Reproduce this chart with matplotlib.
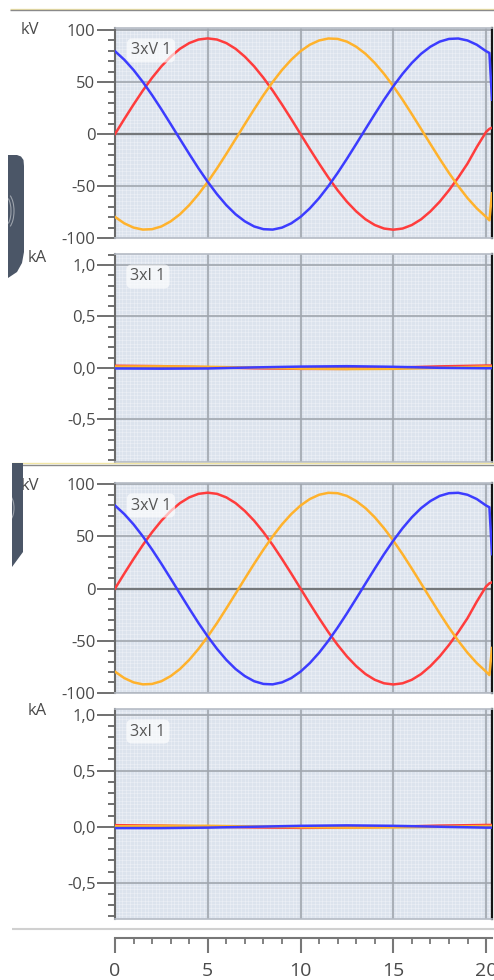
import numpy as np
import matplotlib
matplotlib.use("Agg")
import matplotlib.pyplot as plt
from matplotlib.ticker import MultipleLocator, FuncFormatter
from matplotlib.transforms import Affine2D
from matplotlib.lines import Line2D
from matplotlib.patches import Polygon, Arc

# ---- recorded samples (time in ms) ----
t_v = np.concatenate([np.arange(0, 20.01, 0.5), [20.18, 20.32]])

red_kv = [0.0, 14.4, 28.4, 41.8, 54.1, 65.1, 74.4, 82.0, 87.5, 90.9, 92.0,
          90.9, 87.5, 82.0, 74.4, 65.1, 54.1, 41.8, 28.4, 14.4, 0.0,
          -14.4, -28.4, -41.8, -54.1, -65.1, -74.4, -82.0, -87.5, -90.9, -92.0,
          -90.9, -87.5, -82.0, -74.4, -65.1, -54.1, -41.8, -28.4, -12.5, 2.0,
          5.0, 6.0]
blue_kv = [79.7, 71.5, 61.6, 50.1, 37.4, 23.8, 9.6, -4.8, -19.1, -33.0, -46.0,
           -57.9, -68.4, -77.2, -84.0, -88.9, -91.5, -91.9, -90.0, -85.9, -79.7,
           -71.5, -61.6, -50.1, -37.4, -23.8, -9.6, 4.8, 19.1, 33.0, 46.0,
           57.9, 68.4, 77.2, 84.0, 88.9, 91.5, 91.9, 90.0, 85.9, 79.7,
           78.0, 33.0]
orange_kv = [-79.7, -85.9, -90.0, -91.9, -91.5, -88.9, -84.0, -77.2, -68.4, -57.9, -46.0,
             -33.0, -19.1, -4.8, 9.6, 23.8, 37.4, 50.1, 61.6, 71.5, 79.7,
             85.9, 90.0, 91.9, 91.5, 88.9, 84.0, 77.2, 68.4, 57.9, 46.0,
             33.0, 19.1, 4.8, -9.6, -23.8, -37.4, -50.1, -61.6, -71.5, -79.7,
             -83.0, -57.0]

t_i = [0, 2.5, 5, 7.5, 10, 12.5, 15, 17.5, 20, 20.32]
red_ka_1 = [0.020, 0.016, 0.006, -0.004, -0.010, -0.010, 0.002, 0.014, 0.022, 0.022]
orange_ka_1 = [0.012, 0.014, 0.010, 0.002, -0.008, -0.012, -0.010, 0.000, 0.012, 0.010]
blue_ka_1 = [-0.006, -0.008, -0.006, 0.004, 0.012, 0.016, 0.010, 0.000, -0.004, -0.004]

red_ka_2 = [0.014, 0.010, 0.002, -0.006, -0.010, -0.008, 0.000, 0.010, 0.016, 0.016]
orange_ka_2 = [0.004, 0.008, 0.008, 0.002, -0.004, -0.008, -0.006, 0.000, 0.006, 0.006]
blue_ka_2 = [-0.012, -0.012, -0.008, 0.000, 0.008, 0.012, 0.008, 0.000, -0.008, -0.008]

x_ticks = [0, 5, 10, 15, 20]

RED, ORANGE, BLUE = '#ff3c3c', '#ffb22c', '#3c3cff'
TXT = '#4a4a4a'

W, H = 494, 980
plt.rcParams['font.family'] = ['Open Sans', 'DejaVu Sans']
fig = plt.figure(figsize=(W / 100, H / 100), dpi=100)
fig.patch.set_facecolor('white')

# pixel coordinates measured from the top-left corner
pix = Affine2D().scale(1 / W, -1 / H).translate(0, 1) + fig.transFigure


def rect(l, t, r, b):
    return [l / W, 1 - b / H, (r - l) / W, (b - t) / H]


def hline(x0, x1, y, color, lw):
    fig.add_artist(Line2D([x0, x1], [y, y], transform=pix, color=color, lw=lw,
                          solid_capstyle='butt', zorder=2))


def kv_fmt(v, _):
    return f"{v:.0f}".replace('\u2212', '-')


def ka_fmt(v, _):
    return f"{v:.1f}".replace('.', ',').replace('\u2212', '-')


def make_panel(box, ylim, major, minor, fmt, label, label_x):
    ax = fig.add_axes(rect(*box))
    ax.set_xlim(0, 20.32)
    ax.set_ylim(*ylim)
    ax.set_facecolor('#dce3ed')
    ax.yaxis.set_major_locator(MultipleLocator(major))
    ax.yaxis.set_minor_locator(MultipleLocator(minor))
    ax.yaxis.set_major_formatter(FuncFormatter(fmt))
    ax.set_xticks(x_ticks)
    ax.tick_params(axis='x', which='both', bottom=False, labelbottom=False)
    ax.tick_params(axis='y', which='major', length=13, width=1.4, color='#707070',
                   labelsize=12, labelcolor=TXT, pad=1)
    ax.tick_params(axis='y', which='minor', length=5, width=1.4, color='#707070')

    # fine background mesh
    l, t, r, b = box
    xs = np.arange(0, r - l, 3.7) / (r - l)
    ys = np.arange(0, b - t, 3.7) / (b - t)
    ax.vlines(xs, 0, 1, transform=ax.transAxes, colors='white', lw=0.5,
              alpha=0.4, zorder=0.5)
    ax.hlines(ys, 0, 1, transform=ax.transAxes, colors='white', lw=0.5,
              alpha=0.4, zorder=0.5)

    # major grid
    for xv in x_ticks[1:]:
        ax.axvline(xv, color='#aab0b8', lw=1.5, zorder=1)
    for yv in ax.get_yticks():
        if ylim[0] < yv < ylim[1]:
            if abs(yv) < 1e-9:
                ax.axhline(yv, color='#75787b', lw=1.6, zorder=1)
            else:
                ax.axhline(yv, color='#a0a6ae', lw=1.2, zorder=1)

    for s in ('top', 'bottom'):
        ax.spines[s].set_color('#b5bbc5')
        ax.spines[s].set_linewidth(1.2)
    ax.spines['left'].set_color('#6a6a6a')
    ax.spines['left'].set_linewidth(1.5)
    ax.spines['right'].set_color('#151515')
    ax.spines['right'].set_linewidth(1.6)

    ax.text((label_x - l) / (r - l), 1 - 22.5 / (b - t), label,
            transform=ax.transAxes, ha='center', va='center',
            fontsize=11.5, color='#555555', zorder=6,
            bbox=dict(boxstyle='round,pad=0.25,rounding_size=0.35', fc='white',
                      ec='none', alpha=0.65))
    return ax


ax1 = make_panel((115, 28, 492, 238), (-100, 102), 50, 10, kv_fmt, '3xV 1', 151)
ax2 = make_panel((115, 254, 492, 462), (-0.916, 1.107), 0.5, 0.1, ka_fmt, '3xI 1', 148)
ax3 = make_panel((115, 483, 492, 693), (-100.2, 101.3), 50, 10, kv_fmt, '3xV 1', 151)
ax4 = make_panel((115, 709, 492, 919), (-0.823, 1.05), 0.5, 0.1, ka_fmt, '3xI 1', 148)

for ax in (ax1, ax3):
    ax.plot(t_v, red_kv, color=RED, lw=1.8, zorder=3)
    ax.plot(t_v, orange_kv, color=ORANGE, lw=1.8, zorder=3)
    ax.plot(t_v, blue_kv, color=BLUE, lw=1.8, zorder=3)

for ax, (r_, o_, b_) in ((ax2, (red_ka_1, orange_ka_1, blue_ka_1)),
                         (ax4, (red_ka_2, orange_ka_2, blue_ka_2))):
    ax.plot(t_i, r_, color=RED, lw=1.8, zorder=3)
    ax.plot(t_i, o_, color=ORANGE, lw=1.8, zorder=3)
    ax.plot(t_i, b_, color=BLUE, lw=1.8, zorder=3)

# shared time axis at the bottom
axx = fig.add_axes(rect(115, 937, 492, 938))
axx.set_xlim(0, 20.32)
axx.patch.set_visible(False)
for s in ('top', 'left', 'right'):
    axx.spines[s].set_visible(False)
axx.spines['bottom'].set_color('#777777')
axx.spines['bottom'].set_linewidth(1.5)
axx.set_yticks([])
axx.set_xticks(x_ticks)
axx.xaxis.set_minor_locator(MultipleLocator(1))
axx.tick_params(axis='x', which='major', direction='out', length=11, width=1.5,
                color='#777777', labelsize=14, labelcolor=TXT, pad=6)
axx.tick_params(axis='x', which='minor', direction='out', length=4, width=1.3,
                color='#777777')

# unit captions
for (x, y, s) in ((30, 30, 'kV'), (37, 258, 'kA'), (30, 486, 'kV'), (37, 711, 'kA')):
    fig.text(x / W, 1 - y / H, s, ha='center', va='center', fontsize=12, color=TXT)

# separators
hline(10, 494, 9.3, '#f2e6a6', 1.0)
hline(10, 494, 10.5, '#8a8a8a', 1.0)
hline(12, 494, 463.3, '#f2e6a6', 1.0)
hline(12, 494, 464.6, '#8a8a8a', 1.0)
hline(12, 494, 929, '#d0d0d0', 1.5)

# side tabs
TAB = '#4b5667'
tab1 = [(8, 155), (17, 155), (21, 156.5), (23.5, 160), (24, 166), (24, 252), (22, 263),
        (17, 272), (8, 278)]
tab2 = [(12, 463), (23, 463), (23, 552), (12, 567)]
for pts in (tab1, tab2):
    fig.add_artist(Polygon(pts, closed=True, transform=pix, fc=TAB, ec='none', zorder=5))
for (cx, cy, w, h) in ((6, 211, 16, 36), (5, 211, 12, 30), (8, 508, 12, 26)):
    fig.add_artist(Arc((cx, cy), w, h, theta1=-75, theta2=75, transform=pix,
                       color='white', alpha=0.45, lw=0.8, zorder=6))

fig.savefig('out.png', dpi=100, facecolor='white')
